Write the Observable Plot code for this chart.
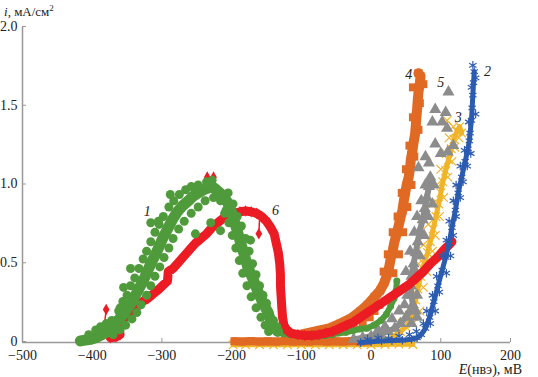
<!DOCTYPE html>
<html><head><meta charset="utf-8">
<script src="https://cdn.jsdelivr.net/npm/d3@7"></script>
<script src="https://cdn.jsdelivr.net/npm/@observablehq/plot@0.6"></script>
<style>
body{margin:0;background:#fff;}
#chart{width:538px;height:377px;}
</style></head><body><div id="chart"></div>
<script>
// ---- axis ticks / labels ----
const xTicks = [-500, -400, -300, -200, -100, 0, 100, 200];
const yTicks = [0, 0.5, 1, 1.5, 2];
const yTitle = ["i", ", мА/см", "2"];
const xTitle = ["E", "(нвэ), мВ"];
const seriesLabels = [["1", -321, 0.83], ["6", -137, 0.84], ["4", 54, 1.70], ["5", 100, 1.65], ["3", 125, 1.43], ["2", 167, 1.72]];

// ---- series 1 (green circles): [E, i] ----
const s1Path = [[-417,0.01],[-410,0.015],[-402,0.02],[-395,0.03],[-388,0.045],[-380,0.065],[-374,0.09],[-368,0.12],[-361,0.15],[-355,0.18],[-349,0.22],[-344,0.25],[-338,0.3],[-332,0.35],[-326,0.4],[-320,0.46],[-315,0.51],[-309,0.56],[-303,0.62],[-298,0.67],[-292,0.72],[-285,0.78],[-278,0.83],[-270,0.87],[-262,0.9],[-255,0.93],[-248,0.95],[-240,0.97],[-234,0.98],[-228,0.99],[-222,0.97],[-217,0.95],[-212,0.93],[-206,0.89],[-201,0.84],[-197,0.78],[-192,0.71],[-187,0.63],[-182,0.56],[-177,0.48],[-170,0.41],[-163,0.33],[-156,0.26],[-149,0.2],[-144,0.14],[-140,0.1],[-134,0.07]];
const s1Low = [[-134,0.07],[-126,0.055],[-116,0.05],[-106,0.045],[-96,0.04],[-86,0.04],[-76,0.04],[-66,0.045],[-56,0.05],[-46,0.06],[-36,0.065],[-26,0.075],[-16,0.085],[-6,0.09],[4,0.11],[14,0.14],[22,0.18],[28,0.23],[33,0.28],[36,0.33],[37,0.39]];
const s1Scatter = [[-405,0.05],[-395,0.08],[-388,0.1],[-380,0.12],[-372,0.14],[-362,0.2],[-356,0.26],[-350,0.3],[-345,0.36],[-339,0.41],[-333,0.47],[-327,0.53],[-322,0.58],[-316,0.64],[-310,0.7],[-304,0.75],[-298,0.8],[-290,0.86],[-283,0.9],[-275,0.94],[-266,0.97],[-258,0.99],[-248,1.0],[-236,1.02],[-228,1.03],
[-370,0.05],[-360,0.08],[-352,0.11],[-343,0.15],[-336,0.19],[-330,0.24],[-322,0.3],[-316,0.36],[-310,0.42],[-303,0.48],[-297,0.54],[-290,0.6],[-284,0.66],[-276,0.72],[-268,0.77],[-258,0.82],[-248,0.86],[-238,0.9],[-226,0.92],[-216,0.9],[-208,0.84],
[-205,0.95],[-198,0.88],[-192,0.8],[-186,0.74],[-180,0.66],[-175,0.58],[-170,0.5],[-165,0.43],[-160,0.36],[-155,0.3],[-150,0.25],[-146,0.19],[-140,0.14],[-135,0.1],
[-210,0.82],[-204,0.76],[-199,0.68],[-194,0.6],[-189,0.52],[-184,0.44],[-178,0.36],[-172,0.29],[-165,0.22],[-158,0.16],[-152,0.11],[-147,0.07],
[-355,0.35],[-345,0.47],[-316,0.76],[-305,0.77],[-288,0.94],[-360,0.22],[-252,0.69],[-230,0.76],[-173,0.65],[-168,0.41],[-216,0.71]];

// ---- series 6 (red diamonds) ----
const s6Path = [[-374,0.03],[-366,0.035],[-360,0.05],[-362,0.11],[-357,0.15],[-350,0.17],[-342,0.2],[-335,0.23],[-328,0.26],[-320,0.28],[-312,0.31],[-304,0.34],[-297,0.37],[-292,0.39],[-291,0.45],[-284,0.47],[-276,0.51],[-268,0.55],[-260,0.59],[-252,0.63],[-244,0.66],[-236,0.69],[-228,0.73],[-220,0.76],[-212,0.79],[-204,0.81],[-196,0.82],[-188,0.83],[-180,0.835],[-172,0.83],[-164,0.82],[-157,0.8],[-150,0.77],[-144,0.73],[-139,0.69],[-136,0.63],[-133,0.57],[-131,0.5],[-130,0.43],[-130,0.36],[-129,0.29],[-128,0.22],[-127,0.16],[-125,0.11],[-121,0.08],[-115,0.06],[-105,0.05],[-95,0.045],[-85,0.045],[-75,0.05],[-65,0.06],[-55,0.07],[-45,0.09],[-35,0.11],[-25,0.13],[-15,0.16],[-5,0.19],[5,0.22],[15,0.25],[25,0.28],[35,0.31],[45,0.34],[55,0.37],[65,0.41],[75,0.45],[85,0.5],[95,0.54],[105,0.59],[112,0.62],[116,0.64]];
const s6Spike = [[-388,0.02],[-384,0.05],[-380,0.21]];
const s6Stem = [[-160,0.78],[-161,0.69]];
const s6Extra = [[-235,1.05],[-226,1.05],[-380,0.21],[-161,0.69]];

// ---- series 4 (orange squares) ----
const s4Low = [[-196,0.008],[-184,0.006],[-172,0.009],[-160,0.006],[-148,0.008],[-136,0.006],[-124,0.009],[-112,0.006],[-100,0.008],[-88,0.006],[-76,0.009],[-64,0.006],[-52,0.008],[-40,0.006],[-28,0.009],[-16,0.006],[-6,0.008]];
const s4Path = [[-120,0.035],[-101,0.05],[-80,0.07],[-60,0.09],[-44,0.12],[-30,0.15],[-15,0.2],[-5,0.24],[5,0.29],[13,0.33],[19,0.38],[23,0.43],[26,0.48],[28,0.53],[31,0.58],[33,0.63],[36,0.68],[39,0.73],[42,0.79],[45,0.84],[47,0.9],[49,0.95],[51,1.0],[54,1.05],[56,1.11],[57,1.16],[59,1.21],[61,1.27],[63,1.32],[64,1.37],[65,1.43],[66,1.48],[67,1.54],[68,1.59],[70,1.65],[71,1.69],[68,1.71]];
const s4Scatter = [[-90,0.04],[-60,0.05],[-40,0.07],[-25,0.1],[-12,0.13],[-2,0.16],[5,0.2],[12,0.24],[60,1.62],[75,1.64],[70,1.52],[60,1.43],[68,1.35],[55,1.25],[62,1.18],[50,1.1],[58,1.0],[44,0.95],[52,0.86],[38,0.8],[46,0.7],[31,0.7],[40,0.56],[24,0.56],[32,0.44],[18,0.45]];

// ---- series 5 (gray triangles) ----
const s5Path = [[-25,0.02],[-12,0.03],[0,0.04],[12,0.05],[24,0.07],[34,0.09],[42,0.12],[50,0.16],[56,0.2],[60,0.24],[58,0.3],[57,0.36],[58,0.42],[61,0.5],[64,0.57],[67,0.64],[70,0.71],[74,0.78],[77,0.85],[80,0.92],[83,0.99],[85,1.05]];
const s5Scatter = [[52,0.3],[66,0.3],[50,0.45],[64,0.45],[56,0.58],[70,0.55],[62,0.7],[76,0.68],[66,0.8],[82,0.8],[72,0.9],[88,0.88],[78,1.0],[90,1.0],[40,0.2],[30,0.15],[48,0.24],[64,0.2],[20,0.1],[10,0.08],[58,0.12],[66,0.16],
[68,1.11],[78,1.18],[92,1.26],[110,1.21],[118,1.25],[88,1.4],[102,1.4],[109,1.36],[92,1.48],[107,1.46],[111,1.59],[83,1.14],[100,1.2]];

// ---- series 3 (yellow crosses) ----
const s3Low = [[-198,-0.015],[-180,-0.015],[-160,-0.014],[-140,-0.015],[-120,-0.015],[-100,-0.014],[-80,-0.015],[-60,-0.015],[-40,-0.014],[-20,-0.015],[0,-0.014],[20,-0.012],[40,-0.01],[60,-0.012]];
const s3Path = [[10,0.0],[22,0.02],[32,0.04],[42,0.07],[50,0.1],[56,0.14],[60,0.2],[64,0.27],[67,0.34],[71,0.42],[76,0.5],[81,0.57],[85,0.64],[89,0.72],[93,0.8],[97,0.88],[100,0.95],[103,1.02],[107,1.09],[111,1.16],[115,1.23],[119,1.29],[123,1.34],[127,1.37],[130,1.33]];
const s3Scatter = [[45,0.12],[60,0.12],[70,0.2],[55,0.22],[75,0.35],[62,0.38],[80,0.45],[68,0.5],[88,0.58],[75,0.62],[92,0.68],[82,0.75],[98,0.8],[88,0.88],[104,0.92],[94,1.0],[110,1.05],[100,1.1],[116,1.15],[108,1.2],[120,1.24],[112,1.3],[126,1.3],[118,1.37],[109,1.41]];

// ---- series 2 (blue asterisks) ----
const s2Path = [[-15,0.0],[0,0.005],[15,0.01],[30,0.012],[45,0.015],[58,0.02],[66,0.03],[72,0.05],[78,0.09],[84,0.16],[90,0.26],[96,0.36],[102,0.46],[107,0.54],[112,0.63],[116,0.73],[121,0.84],[125,0.95],[130,1.05],[135,1.15],[139,1.23],[141,1.28],[142,1.33],[144,1.41],[145,1.49],[146,1.57],[147,1.65],[148,1.72]];
const s2Scatter = [[-5,0.02],[10,0.03],[25,0.025],[40,0.04],[55,0.05],[65,0.07],[75,0.12],[85,0.12],[80,0.2],[92,0.2],[88,0.3],[98,0.32],[94,0.42],[108,0.44],[102,0.55],[114,0.55],[108,0.65],[118,0.68],[112,0.77],[122,0.8],[118,0.9],[128,0.92],[122,1.0],[132,1.02],[128,1.12],[138,1.12],[134,1.22],[143,1.2],[140,1.4],[150,1.45],[144,1.62],[150,1.68],[146,1.76]];

// ---- colours ----
const C = {s1: "#4f9b3c", s6: "#ec1c24", s4: "#e06a24", s5: "#8c8c8c", s3: "#f0b429", s2: "#2c5cb0"};
const font = "'Liberation Serif', 'Times New Roman', serif";

const X = d => d[0], Y = d => d[1];
const band = (data, color, w) => Plot.line(data, {x: X, y: Y, stroke: color, strokeWidth: w, strokeLinejoin: "round", strokeLinecap: "round"});
const fillDots = (data, color, symbol, r) => Plot.dot(data, {x: X, y: Y, fill: color, stroke: "none", symbol, r});
const strokeDots = (data, color, symbol, r) => Plot.dot(data, {x: X, y: Y, stroke: color, strokeWidth: 1.2, fill: "none", symbol, r});

const svg = Plot.plot({
  width: 538, height: 377,
  marginLeft: 22, marginRight: 28, marginTop: 27, marginBottom: 35,
  x: {domain: [-500, 200]},
  y: {domain: [0, 2]},
  style: {fontFamily: font, fontSize: "14px", color: "#222", background: "#fff", overflow: "visible"},
  marks: [
    Plot.axisY({ticks: yTicks, tickFormat: d => d === 0 ? "0" : d.toFixed(1), tickSize: -4, tickPadding: 9, dy: -1, stroke: "#999", fill: "#222", label: null}),
    Plot.axisX({ticks: xTicks, tickFormat: d => d < 0 ? "\u2212" + Math.abs(d) : String(d), tickSize: -4, tickPadding: 12, stroke: "#999", fill: "#222", label: null}),
    Plot.ruleX([-500], {stroke: "#999", strokeWidth: 1.5}),
    Plot.ruleY([0], {stroke: "#999", strokeWidth: 1.5}),
    // series 3 (yellow)
    band(s3Low, C.s3, 5), band(s3Path, C.s3, 5),
    strokeDots(s3Low, C.s3, "times", 4), strokeDots(s3Path, C.s3, "times", 4), strokeDots(s3Scatter, C.s3, "times", 4),
    // series 4 (orange)
    band(s4Low, C.s4, 8), band(s4Path, C.s4, 10),
    fillDots(s4Low, C.s4, "square", 4.5), fillDots(s4Path, C.s4, "square", 4.5), fillDots(s4Scatter, C.s4, "square", 4.5),
    // series 5 (gray)
    band(s5Path, C.s5, 6),
    fillDots(s5Path, C.s5, "triangle", 4.5), fillDots(s5Scatter, C.s5, "triangle", 4.5),
    // series 1 low part (green, under red)
    band(s1Low, C.s1, 6), fillDots(s1Low, C.s1, "circle", 3.5),
    // series 6 (red)
    Plot.line(s6Spike, {x: X, y: Y, stroke: C.s6, strokeWidth: 1.5}),
    Plot.line(s6Stem, {x: X, y: Y, stroke: C.s6, strokeWidth: 1.5}),
    band(s6Path, C.s6, 9),
    fillDots(s6Path, C.s6, "diamond", 3.5), fillDots(s6Extra, C.s6, "diamond", 3.5),
    // series 2 (blue)
    band(s2Path, C.s2, 5),
    strokeDots(s2Path, C.s2, "asterisk", 4), strokeDots(s2Scatter, C.s2, "asterisk", 4),
    // series 1 (green)
    band(s1Path, C.s1, 11),
    fillDots(s1Path, C.s1, "circle", 4.5), fillDots(s1Scatter, C.s1, "circle", 4.5),
    // series labels
    Plot.text(seriesLabels, {x: d => d[1], y: d => d[2], text: d => d[0], fontStyle: "italic", fontSize: 14, fill: "#222"})
  ]
});

const s = d3.select(svg);
const t1 = s.append("text").attr("x", 4).attr("y", 16).attr("text-anchor", "start").attr("font-size", 13).attr("fill", "#222").attr("font-family", font);
t1.append("tspan").attr("font-style", "italic").text(yTitle[0]);
t1.append("tspan").text(yTitle[1]);
t1.append("tspan").attr("dy", -5).attr("font-size", 9).text(yTitle[2]);
const t2 = s.append("text").attr("x", 522).attr("y", 374).attr("text-anchor", "end").attr("font-size", 14).attr("fill", "#222").attr("font-family", font);
t2.append("tspan").attr("font-style", "italic").text(xTitle[0]);
t2.append("tspan").text(xTitle[1]);

document.getElementById("chart").appendChild(svg);
</script></body></html>
